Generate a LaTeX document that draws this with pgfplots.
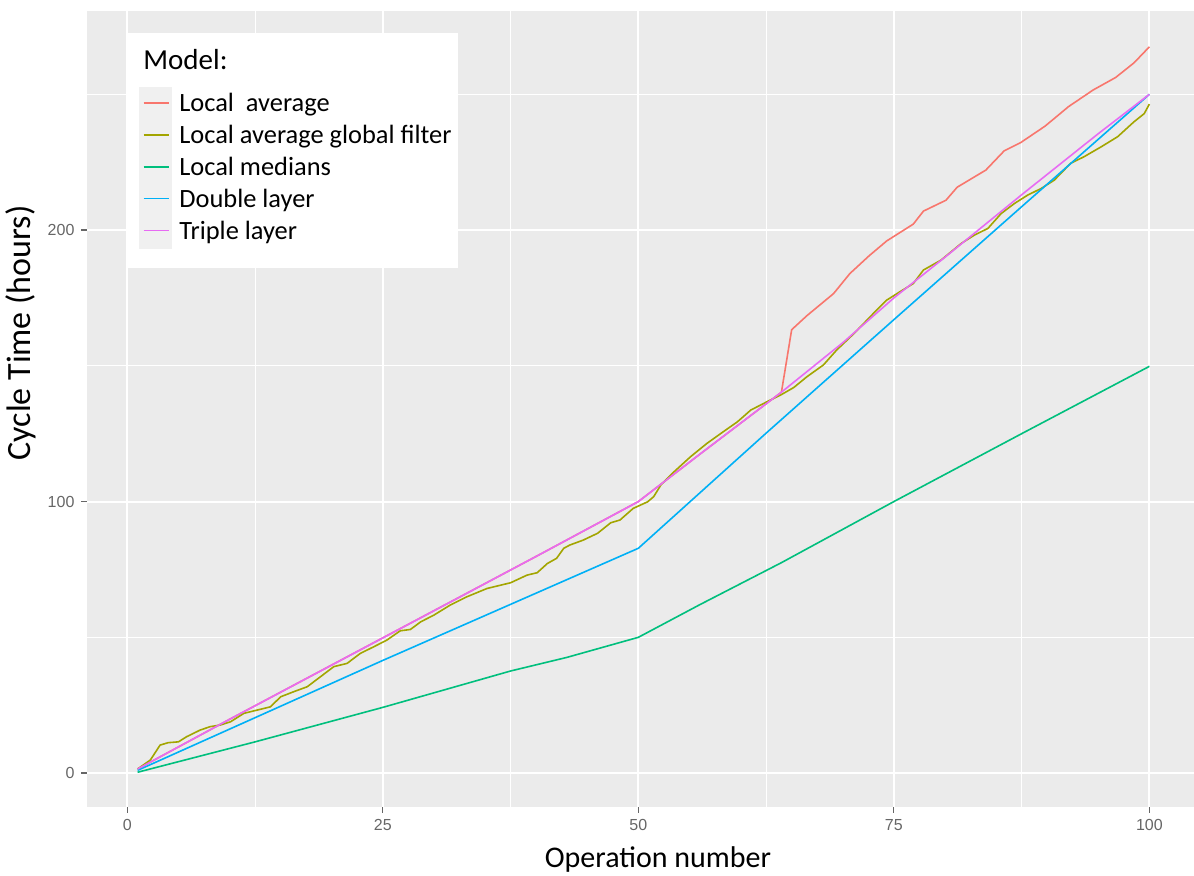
\documentclass[border=0pt]{standalone}
\usepackage{fontspec}
\setmainfont{Carlito}
\newfontfamily\tickfont{Liberation Sans}
\usepackage{pgfplots}
\pgfplotsset{compat=1.18}
\definecolor{cA}{HTML}{F8766D}
\definecolor{cB}{HTML}{A3A500}
\definecolor{cC}{HTML}{00BF7D}
\definecolor{cD}{HTML}{00B0F6}
\definecolor{cE}{HTML}{E76BF3}
\definecolor{panel}{HTML}{EBEBEB}
\definecolor{keybg}{HTML}{F0F0F0}
\definecolor{ticklab}{HTML}{666666}
\begin{document}
\begin{tikzpicture}
\useasboundingbox (0,0) rectangle (597pt,437.5pt);
\begin{axis}[
  at={(43.5pt,34pt)}, anchor=south west,
  scale only axis, width=553.5pt, height=398pt,
  xmin=-3.95, xmax=104.37, ymin=-12.5, ymax=280.7,
  xtick={0,25,50,75,100}, ytick={0,100,200},
  minor xtick={12.5,37.5,62.5,87.5}, minor ytick={50,150,250},
  grid=both,
  major grid style={white, line width=1pt},
  minor grid style={white, line width=0.5pt},
  axis background/.style={fill=panel},
  axis line style={draw=none},
  xtick pos=bottom, ytick pos=left,
  tick align=outside, major tick length=2.75pt, minor tick length=0pt,
  tick style={ticklab, line width=0.6pt},
  ticklabel style={font=\tickfont\fontsize{8}{9.5}\selectfont, text=ticklab},
  /pgf/number format/assume math mode=true,
  xlabel={Operation number}, ylabel={Cycle Time (hours)},
  xlabel style={at={(axis description cs:0.5158,-0.0766)}, anchor=base, font=\fontsize{15}{18}\selectfont},
  ylabel style={at={(axis description cs:-0.0506,0.5955)}, anchor=base, font=\fontsize{17}{20}\selectfont},
  legend cell align=left,
  legend style={at={(axis description cs:0.04697,0.90452)}, anchor=north west,
    draw=none, fill=none, inner sep=0pt, row sep=-0.95pt, column sep=3.5pt,
    font=\fontsize{13.2}{16}\selectfont, nodes={inner sep=0pt}},
  legend image code/.code={\fill[keybg] (0pt,-8.05pt) rectangle (15.7pt,8.05pt);
    \draw[#1, line width=0.9pt] (1.7pt,0.7pt) -- (14.2pt,0.7pt);},
  every axis plot/.append style={mark=none, line width=0.8pt},
]
% Local average
\addplot[cA] coordinates {
(1,1.5)(10,19.8)(20,39.8)(30,59.8)(40,79.8)(50,100)(56,117.4)(64,140.3)
(65,163.3)(66.5,168.5)(69.1,176.6)(70.7,184)(72.6,190.6)(74.3,196)(76.9,202.2)
(77.9,207)(80.1,211)(81.2,215.8)(84,222.1)(85.8,229.2)(87.4,232.2)(89.8,238.3)
(92.1,245.5)(94.5,251.6)(96.7,256.2)(98.5,261.6)(100,267.5)};
\addlegendentry{Local\ \ average}

% Local average global filter
\addplot[cB] coordinates {
(1,1.5)(2.25,4.8)(3.2,10.3)(4,11.2)(5,11.5)(5.8,13.4)(7.1,15.8)(8.1,17.1)(9.1,17.7)
(10.1,18.9)(11.4,22)(12.7,23.2)(14,24.4)(15,28.1)(16.3,30)(17.6,31.8)(18.9,35.5)
(20.2,39.2)(21.5,40.4)(22.8,44.1)(24.1,46.5)(25.4,49)(26.7,52.4)(27.7,52.9)(28.7,55.7)
(30,58.2)(31.6,61.9)(33.2,64.9)(35.2,68)(37.5,70.1)(39.1,72.9)(40.1,73.8)(41.1,77.2)
(42,79.1)(42.7,82.8)(43.3,84)(44.6,85.8)(46,88.3)(47.3,92.2)(48.2,93.2)(49.5,97.5)
(50.9,99.9)(51.5,101.8)(52.2,106.1)(53.5,111)(55.1,116.5)(56.7,121.4)(58.3,125.7)
(59.7,129.4)(61,133.7)(62.6,136.8)(63.9,139.2)(65.2,142)(66.5,146)(68.1,150.3)
(69.4,155.8)(71.1,161.9)(73,169.3)(74.3,174.2)(75.6,177.3)(76.9,180.3)(77.9,185.3)
(79.6,188.9)(80.6,192)(81.6,195.1)(82.9,198.2)(84.2,200.6)(85.5,206.1)(86.8,209.8)
(88.1,212.9)(89.4,215.3)(90.7,218.4)(92.3,224.6)(93.6,227)(95.3,230.7)(96.9,234.4)
(98.5,239.9)(99.5,242.9)(100,246.4)};
\addlegendentry{Local average global filter}

% Local medians
\addplot[cC] coordinates {
(1,0.3)(12.5,11.5)(25,24.2)(37.5,37.6)(43,42.6)(50,50)(56,62)(64,77.5)(75,100)
(87.5,125)(100,149.8)};
\addlegendentry{Local medians}

% Double layer
\addplot[cD] coordinates {
(1,1)(25,41.5)(50,82.8)(62.5,125.2)(75,167)(87.5,208.6)(100,250)};
\addlegendentry{Double layer}

% Triple layer
\addplot[cE] coordinates {
(1,1.5)(10,19.8)(20,39.8)(30,59.8)(40,79.8)(50,100)(56,117.4)(64,140.3)
(70,158.5)(75,175)(80,190)(87.5,213)(95,235.5)(100,250)};
\addlegendentry{Triple layer}

% legend panel and title
\fill[white] (axis description cs:0.03704,0.97236) rectangle (axis description cs:0.33514,0.67714);
\node[anchor=base west, inner sep=0pt, font=\fontsize{14.5}{17}\selectfont]
  at (axis description cs:0.05059,0.92676) {Model:};
\end{axis}
\end{tikzpicture}
\end{document}
